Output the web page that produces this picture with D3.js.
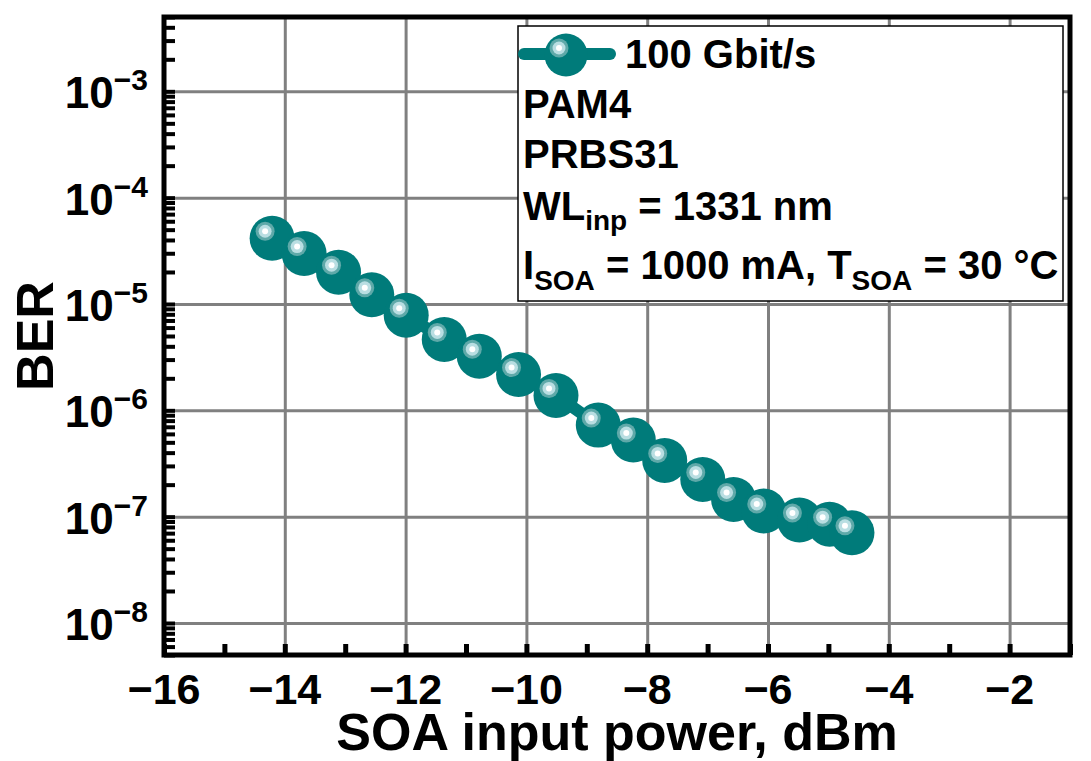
<!DOCTYPE html>
<html>
<head>
<meta charset="utf-8">
<script src="https://cdn.jsdelivr.net/npm/d3@7"></script>
<style>
  body { margin: 0; background: #fff; }
  text { font-family: "Liberation Sans", Arial, sans-serif; font-weight: bold; fill: #000; }
</style>
</head>
<body>
<div class="container"></div>
<script>
// data
var power = [-14.21, -13.68, -13.11, -12.56, -11.99, -11.36, -10.78, -10.13, -9.51,
             -8.81, -8.23, -7.71, -7.08, -6.57, -6.07, -5.48, -4.98, -4.61];
var ber = [4.15e-5, 2.98e-5, 1.99e-5, 1.22e-5, 7.85e-6, 4.64e-6, 3.23e-6, 2.17e-6, 1.38e-6,
           7.26e-7, 5.25e-7, 3.38e-7, 2.24e-7, 1.45e-7, 1.13e-7, 9.3e-8, 8.5e-8, 7.05e-8];
var xTickLabels = [-16, -14, -12, -10, -8, -6, -4, -2];
var yExponents = [-3, -4, -5, -6, -7, -8];
var legendLines = ["PAM4", "PRBS31"];

var loadChart = function(){
    var width = 1091, height = 761;
    var left = 164, right = 1070, top = 17, bottom = 655;
    var teal = '#007b7a';

    var svg = d3.select('.container')
                .append('svg')
                .attr('width', width)
                .attr('height', height);

    var x = d3.scaleLinear().domain([-16, -1]).range([left, right]);
    var y = d3.scaleLog().domain([5e-9, 5e-3]).range([bottom, top]);

    // grid
    svg.append('g')
        .attr('transform', 'translate(0,' + bottom + ')')
        .call(d3.axisBottom(x).tickValues(xTickLabels.slice(1)).tickSize(-(bottom - top)).tickFormat(''))
        .call(function(g){ g.select('.domain').remove(); })
        .selectAll('line').attr('stroke', '#808080').attr('stroke-width', 3);

    svg.append('g')
        .attr('transform', 'translate(' + left + ',0)')
        .call(d3.axisLeft(y).tickValues(yExponents.map(function(e){ return Math.pow(10, e); }))
              .tickSize(-(right - left)).tickFormat(''))
        .call(function(g){ g.select('.domain').remove(); })
        .selectAll('line').attr('stroke', '#808080').attr('stroke-width', 3);

    // inward ticks
    svg.append('g')
        .attr('transform', 'translate(0,' + bottom + ')')
        .call(d3.axisBottom(x).ticks(15).tickSize(-11).tickFormat(''))
        .call(function(g){ g.select('.domain').remove(); })
        .selectAll('line').attr('stroke', '#000').attr('stroke-width', 5);

    svg.append('g')
        .attr('transform', 'translate(' + left + ',0)')
        .call(d3.axisLeft(y).tickSize(-11).tickFormat(''))
        .call(function(g){ g.select('.domain').remove(); })
        .selectAll('line').attr('stroke', '#000').attr('stroke-width', 4);

    // tick labels
    svg.selectAll('.xlab')
        .data(xTickLabels)
        .enter()
        .append('text')
        .attr('x', function(d){ return x(d); })
        .attr('y', 704)
        .attr('text-anchor', 'middle')
        .style('font-size', '43px')
        .text(function(d){ return '\u2212' + Math.abs(d); });

    var ylab = svg.selectAll('.ylab')
        .data(yExponents)
        .enter()
        .append('text')
        .attr('x', 148)
        .attr('y', function(d){ return y(Math.pow(10, d)) + 17; })
        .attr('text-anchor', 'end')
        .style('font-size', '44px');
    ylab.append('tspan').text('10');
    ylab.append('tspan')
        .attr('dy', -18)
        .style('font-size', '30px')
        .text(function(d){ return '\u2212' + Math.abs(d); });

    // axis titles
    svg.append('text')
        .attr('x', (left + right) / 2)
        .attr('y', 750)
        .attr('text-anchor', 'middle')
        .style('font-size', '52px')
        .text('SOA input power, dBm');

    svg.append('text')
        .attr('transform', 'translate(53,' + (top + bottom) / 2 + ') rotate(-90)')
        .attr('text-anchor', 'middle')
        .style('font-size', '52px')
        .text('BER');

    var ball = function(g, cx, cy, r){
        g.append('circle').attr('cx', cx).attr('cy', cy).attr('r', r).attr('fill', teal);
        g.append('circle').attr('cx', cx - 7).attr('cy', cy - 7).attr('r', 9.5).attr('fill', '#5fa9a9');
        g.append('circle').attr('cx', cx - 7).attr('cy', cy - 7).attr('r', 6.5).attr('fill', '#b9dee2');
        g.append('circle').attr('cx', cx - 7).attr('cy', cy - 7).attr('r', 3).attr('fill', '#fff');
    };

    // data line + markers
    var pts = power.map(function(p, i){ return [p, ber[i]]; });
    svg.append('path')
        .datum(pts)
        .attr('fill', 'none')
        .attr('stroke', teal)
        .attr('stroke-width', 12)
        .attr('d', d3.line().x(function(d){ return x(d[0]); }).y(function(d){ return y(d[1]); }));

    pts.forEach(function(d){
        ball(svg.append('g'), x(d[0]), y(d[1]), 22.5);
    });

    // legend
    var lg = svg.append('g');
    lg.append('rect')
        .attr('x', 518).attr('y', 26)
        .attr('width', 545).attr('height', 275)
        .attr('fill', '#fff').attr('stroke', '#000').attr('stroke-width', 1.5);
    lg.append('line')
        .attr('x1', 524).attr('y1', 54).attr('x2', 610).attr('y2', 54)
        .attr('stroke', teal).attr('stroke-width', 12).attr('stroke-linecap', 'round');
    ball(lg, 566, 55, 21.5);
    lg.append('text').attr('x', 625).attr('y', 68).style('font-size', '40px').text('100 Gbit/s');

    lg.selectAll('.lgl')
        .data(legendLines)
        .enter()
        .append('text')
        .attr('x', 523)
        .attr('y', function(d, i){ return 118 + i * 50; })
        .style('font-size', '40px')
        .text(function(d){ return d; });

    var wl = lg.append('text').attr('x', 523).attr('y', 220).style('font-size', '40px');
    wl.append('tspan').text('WL');
    wl.append('tspan').attr('dy', 10).style('font-size', '28px').text('inp');
    wl.append('tspan').attr('dy', -10).text(' = 1331 nm');

    var cur = lg.append('text').attr('x', 523).attr('y', 279).style('font-size', '40px');
    cur.append('tspan').text('I');
    cur.append('tspan').attr('dy', 11).style('font-size', '28px').text('SOA');
    cur.append('tspan').attr('dy', -11).text(' = 1000 mA, T');
    cur.append('tspan').attr('dy', 11).style('font-size', '28px').text('SOA');
    cur.append('tspan').attr('dy', -11).text(' = 30 \u00B0C');

    // frame
    svg.append('rect')
        .attr('x', left).attr('y', top)
        .attr('width', right - left).attr('height', bottom - top)
        .attr('fill', 'none').attr('stroke', '#000').attr('stroke-width', 5);
};
window.onload = loadChart;
</script>
</body>
</html>
